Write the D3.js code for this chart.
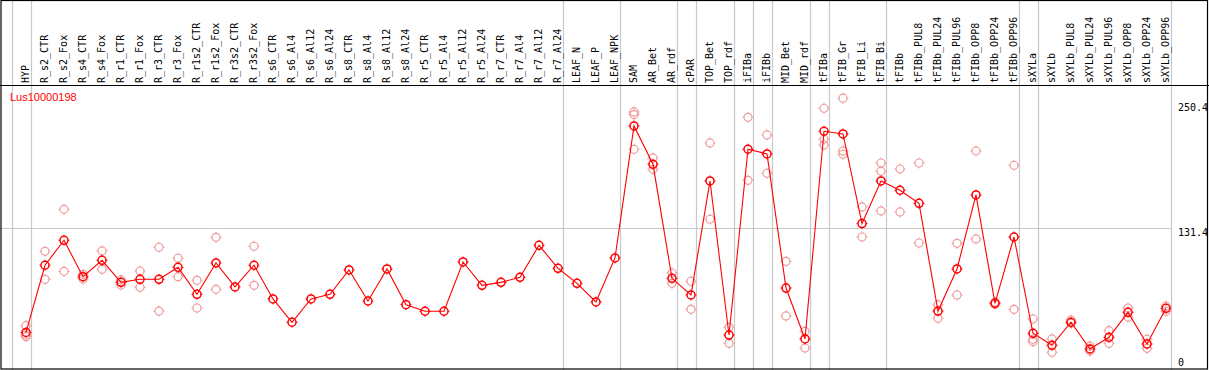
<!DOCTYPE html>
<html>
<head>
<meta charset="utf-8">
<script src="https://cdn.jsdelivr.net/npm/d3@7"></script>
<style>
  body { margin:0; background:#fff; }
  svg { display:block; }
</style>
</head>
<body>
<div id="chart"></div>
<script>
const geneName = "Lus10000198";

const labels = [
  "HYP","R_s2_CTR","R_s2_Fox","R_s4_CTR","R_s4_Fox","R_r1_CTR","R_r1_Fox","R_r3_CTR","R_r3_Fox",
  "R_r1s2_CTR","R_r1s2_Fox","R_r3s2_CTR","R_r3s2_Fox","R_s6_CTR","R_s6_Al4","R_s6_Al12","R_s6_Al24",
  "R_s8_CTR","R_s8_Al4","R_s8_Al12","R_s8_Al24","R_r5_CTR","R_r5_Al4","R_r5_Al12","R_r5_Al24",
  "R_r7_CTR","R_r7_Al4","R_r7_Al12","R_r7_Al24","LEAF_N","LEAF_P","LEAF_NPK","SAM","AR_Bet","AR_rdf",
  "cPAR","TOP_Bet","TOP_rdf","iFIBa","iFIBb","MID_Bet","MID_rdf","tFIBa","tFIB_Gr","tFIB_Li","tFIB_Bi",
  "tFIBb","tFIBb_PUL8","tFIBb_PUL24","tFIBb_PUL96","tFIBb_OPP8","tFIBb_OPP24","tFIBb_OPP96",
  "sXYLa","sXYLb","sXYLb_PUL8","sXYLb_PUL24","sXYLb_PUL96","sXYLb_OPP8","sXYLb_OPP24","sXYLb_OPP96"
];

const means = [
  35.4, 97.0, 119.9, 86.5, 101.5, 81.3, 84.1, 84.1, 95.1,
  70.3, 99.1, 77.1, 97.0, 66.1, 44.7, 66.1, 70.3,
  92.7, 64.2, 93.6, 60.8, 54.8, 54.8, 100.0, 78.6,
  81.3, 85.9, 115.3, 94.2, 80.4, 63.3, 103.7, 224.8, 189.6, 85.0,
  69.7, 174.3, 33.0, 203.4, 199.1, 76.1, 29.4, 219.9, 217.4, 135.2, 174.3,
  165.8, 153.8, 55.0, 93.6, 161.5, 62.1, 122.9,
  34.6, 23.6, 44.7, 20.2, 30.9, 53.8, 24.8, 57.5
];

const replicates = [
  [41.6,33.0,31.5], [109.8,84.1], [148.3,91.4], [88.7,84.4], [110.1,93.3], [83.5,78.9], [91.7,76.8], [113.5,55.0], [103.4,86.5],
  [83.2,57.8], [122.6,74.9], [], [114.4,78.6], [], [], [], [],
  [], [], [], [], [], [], [], [],
  [], [], [], [], [], [], [], [237.6,235.2,203.4], [195.4,185.0], [89.9,80.4],
  [82.3,56.6], [209.2,139.2], [40.1,25.4], [232.7,174.9], [216.5,181.4], [100.6,50.5], [36.4,21.1], [241.0,212.6,207.3], [250.2,201.8,198.8], [150.5,122.9], [190.8,183.2,146.8],
  [185.3,145.9], [190.8,117.4], [60.6,48.3], [117.1,69.7], [201.8,121.1], [63.3,61.2], [188.7,56.6],
  [47.7,29.1,26.9], [29.4,17.2], [46.8,43.8], [22.9,18.3], [37.0,25.4], [57.8,49.5], [29.1,20.8], [59.6,54.8]
];

// group boundary lines drawn after these column indices
const groupEnds = [-1, 0, 28, 31, 34, 35, 37, 38, 39, 41, 42, 45, 52, 53, 60];
const yTicks = [250.4, 131.4, 0];
const gridTicks = [131.4];

const W = 1209, H = 370;
const headerY = 85;

const svg = d3.select("#chart").append("svg").attr("width", W).attr("height", H);

const x = d3.scaleLinear().domain([0, labels.length - 1]).range([26, 1166]);
const y = d3.scaleLinear().domain([0, 250.4]).range([371, 98]);

// grid
svg.append("g").selectAll("line").data(groupEnds).enter().append("line")
  .attr("x1", i => x(i) + 5.5).attr("x2", i => x(i) + 5.5)
  .attr("y1", 0).attr("y2", H)
  .attr("stroke", "#c8c8c8").attr("stroke-width", 1.2);

svg.append("g").selectAll("line").data(gridTicks).enter().append("line")
  .attr("x1", 0).attr("x2", x(60) + 5.5)
  .attr("y1", d => Math.round(y(d)) + 0.5).attr("y2", d => Math.round(y(d)) + 0.5)
  .attr("stroke", "#c8c8c8").attr("stroke-width", 1.2);

// frame
svg.append("rect").attr("x", 1).attr("y", 0.5).attr("width", W - 2.5).attr("height", H - 1.5)
  .attr("fill", "none").attr("stroke", "#000").attr("stroke-width", 1.2);
svg.append("line").attr("x1", 0).attr("x2", W).attr("y1", headerY + 0.5).attr("y2", headerY + 0.5)
  .attr("stroke", "#000").attr("stroke-width", 1.2);

// column labels
svg.append("g").selectAll("text").data(labels).enter().append("text")
  .attr("transform", (d, i) => "translate(" + (x(i) + 3) + "," + (headerY - 2) + ") rotate(-90)")
  .attr("text-anchor", "start")
  .attr("font-family", "DejaVu Sans Mono, monospace").attr("font-size", 10)
  .attr("fill", "#000")
  .text(d => d);

// y labels
svg.append("g").selectAll("text").data(yTicks).enter().append("text")
  .attr("x", 1178)
  .attr("y", d => Math.min(Math.max(y(d) + 5, 107), 362))
  .attr("dominant-baseline", "central")
  .attr("font-family", "DejaVu Sans Mono, monospace").attr("font-size", 10)
  .attr("fill", "#000")
  .text(d => d);

svg.append("text").attr("x", 10).attr("y", 101)
  .attr("font-family", "Liberation Sans, Arial, sans-serif").attr("font-size", 11)
  .attr("fill", "#ff0000").text(geneName);

function marker(g, cx, cy, color, w) {
  g.append("circle").attr("cx", cx).attr("cy", cy).attr("r", 4)
    .attr("fill", "none").attr("stroke", color).attr("stroke-width", w);
  [[0,-1],[0,1],[-1,0],[1,0]].forEach(v => {
    g.append("line")
      .attr("x1", cx + v[0] * 4).attr("y1", cy + v[1] * 4)
      .attr("x2", cx + v[0] * 5.5).attr("y2", cy + v[1] * 5.5)
      .attr("stroke", color).attr("stroke-width", 1);
  });
}

// replicates
const rg = svg.append("g").attr("class", "reps");
replicates.forEach((r, i) => r.forEach(v => marker(rg, x(i), y(v), "#ef9a9a", 1.2)));

// mean line
svg.append("path").datum(means)
  .attr("fill", "none").attr("stroke", "#ff0000").attr("stroke-width", 1.1)
  .attr("d", d3.line().x((d, i) => x(i)).y(d => y(d)));

const mg = svg.append("g").attr("class", "means");
means.forEach((v, i) => marker(mg, x(i), y(v), "#ff0000", 1.5));
</script>
</body>
</html>
